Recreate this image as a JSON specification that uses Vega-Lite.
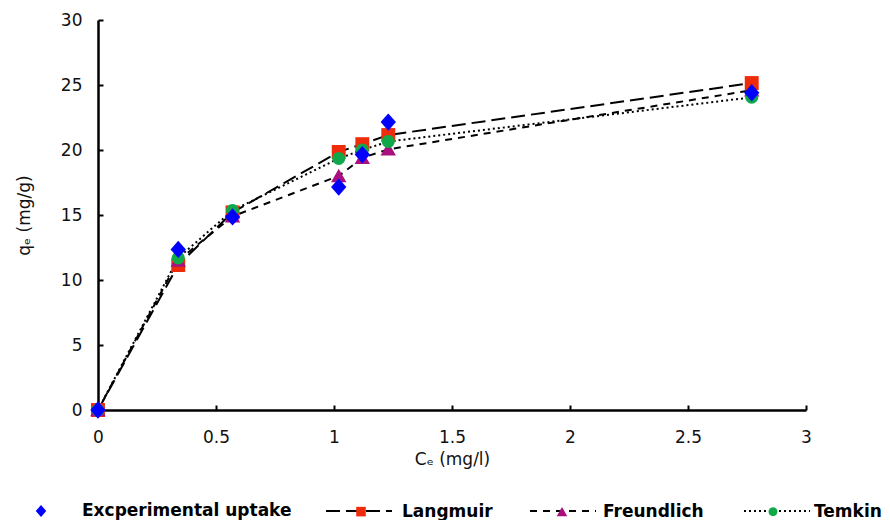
{
  "$schema": "https://vega.github.io/schema/vega-lite/v6.json",
  "width": 708,
  "height": 390,
  "autosize": {"type": "none"},
  "padding": {"left": 98, "top": 20, "right": 84, "bottom": 110},
  "background": "white",
  "config": {"view": {"stroke": null}, "font": "DejaVu Sans"},
  "data": {
    "values": [
      {"series": "Langmuir", "ce": 0, "qe": 0},
      {"series": "Langmuir", "ce": 0.34, "qe": 11.15},
      {"series": "Langmuir", "ce": 0.57, "qe": 15.2},
      {"series": "Langmuir", "ce": 1.02, "qe": 19.85},
      {"series": "Langmuir", "ce": 1.12, "qe": 20.45},
      {"series": "Langmuir", "ce": 1.23, "qe": 21.15},
      {"series": "Langmuir", "ce": 2.77, "qe": 25.15},
      {"series": "Freundlich", "ce": 0, "qe": 0},
      {"series": "Freundlich", "ce": 0.34, "qe": 11.5},
      {"series": "Freundlich", "ce": 0.57, "qe": 14.9},
      {"series": "Freundlich", "ce": 1.02, "qe": 18.0},
      {"series": "Freundlich", "ce": 1.12, "qe": 19.4},
      {"series": "Freundlich", "ce": 1.23, "qe": 20.05},
      {"series": "Freundlich", "ce": 2.77, "qe": 24.6},
      {"series": "Temkin", "ce": 0, "qe": 0},
      {"series": "Temkin", "ce": 0.34, "qe": 11.7},
      {"series": "Temkin", "ce": 0.57, "qe": 15.35},
      {"series": "Temkin", "ce": 1.02, "qe": 19.35},
      {"series": "Temkin", "ce": 1.12, "qe": 20.0},
      {"series": "Temkin", "ce": 1.23, "qe": 20.65},
      {"series": "Temkin", "ce": 2.77, "qe": 24.05},
      {"series": "Excperimental uptake", "ce": 0, "qe": 0},
      {"series": "Excperimental uptake", "ce": 0.34, "qe": 12.35},
      {"series": "Excperimental uptake", "ce": 0.57, "qe": 14.85},
      {"series": "Excperimental uptake", "ce": 1.02, "qe": 17.15},
      {"series": "Excperimental uptake", "ce": 1.12, "qe": 19.65},
      {"series": "Excperimental uptake", "ce": 1.23, "qe": 22.15},
      {"series": "Excperimental uptake", "ce": 2.77, "qe": 24.4}
    ]
  },
  "encoding": {
    "x": {
      "field": "ce", "type": "quantitative",
      "scale": {"domain": [0, 3], "nice": false},
      "axis": {
        "title": "Cₑ (mg/l)", "values": [0, 0.5, 1, 1.5, 2, 2.5, 3], "format": "~g",
        "grid": false, "labelFlush": false, "domainColor": "black", "domainWidth": 2.5,
        "tickColor": "black", "tickWidth": 2, "tickSize": -5,
        "labelFontSize": 17, "labelColor": "#111", "labelPadding": 24,
        "titleFontSize": 17, "titleFontWeight": "normal", "titleColor": "#111", "titlePadding": 6
      }
    },
    "y": {
      "field": "qe", "type": "quantitative",
      "scale": {"domain": [0, 30], "nice": false},
      "axis": {
        "title": "qₑ (mg/g)", "values": [0, 5, 10, 15, 20, 25, 30],
        "grid": false, "labelFlush": false, "domainColor": "black", "domainWidth": 2.5,
        "tickColor": "black", "tickWidth": 2, "tickSize": -5,
        "labelFontSize": 17, "labelColor": "#111", "labelPadding": 21,
        "titleFontSize": 17, "titleFontWeight": "normal", "titleColor": "#111", "titlePadding": 27
      }
    }
  },
  "layer": [
    {
      "mark": {"type": "line", "interpolate": "linear", "strokeWidth": 2, "color": "black"},
      "encoding": {
        "strokeDash": {
          "field": "series", "type": "nominal",
          "sort": ["Excperimental uptake", "Langmuir", "Freundlich", "Temkin"],
          "scale": {"range": [[0, 1000], [14, 6], [7, 6], [2, 3]]},
          "legend": {
            "title": null, "orient": "none", "direction": "horizontal", "columns": 4,
            "legendX": -96, "legendY": 457, "padding": 0,
            "labelFont": "DejaVu Sans", "labelFontWeight": "bold", "labelFontSize": 17,
            "labelOpacity": 0, "labelOffset": 7, "columnPadding": 35, "labelLimit": 400,
            "symbolType": "stroke", "symbolSize": 4356, "symbolStrokeWidth": 2, "symbolStrokeColor": "black"
          }
        }
      }
    },
    {
      "mark": {"type": "point", "filled": true, "size": 9216, "opacity": 1, "strokeWidth": 0},
      "encoding": {
        "color": {
          "field": "series", "type": "nominal",
          "scale": {
            "domain": ["Excperimental uptake", "Langmuir", "Freundlich", "Temkin"],
            "range": ["#0000FF", "#EE2C0C", "#A8107E", "#11A84B"]
          },
          "legend": {
            "title": null, "orient": "none", "direction": "horizontal", "columns": 4,
            "legendX": -91, "legendY": 457, "padding": 0,
            "labelFont": "DejaVu Sans", "labelFontWeight": "bold", "labelFontSize": 17,
            "labelColor": "black", "labelOffset": 7, "columnPadding": 35, "labelLimit": 400,
            "symbolSize": 4356, "symbolStrokeWidth": 2, "symbolStrokeColor": "transparent"
          }
        },
        "shape": {
          "field": "series", "type": "nominal",
          "scale": {
            "domain": ["Excperimental uptake", "Langmuir", "Freundlich", "Temkin"],
            "range": [
              "M-0.16,0L0,-0.18L0.16,0L0,0.18Z",
              "M-0.145,-0.145H0.145V0.145H-0.145Z",
              "M0,-0.15L0.16,0.13H-0.16Z",
              "M-0.135,0A0.135,0.135,0,1,0,0.135,0A0.135,0.135,0,1,0,-0.135,0Z"
            ]
          },
          "legend": {
            "title": null, "orient": "none", "direction": "horizontal", "columns": 4,
            "legendX": -91, "legendY": 457, "padding": 0,
            "labelFont": "DejaVu Sans", "labelFontWeight": "bold", "labelFontSize": 17,
            "labelColor": "black", "labelOffset": 7, "columnPadding": 35, "labelLimit": 400,
            "symbolSize": 4356, "symbolStrokeWidth": 2, "symbolStrokeColor": "transparent"
          }
        }
      }
    }
  ]
}
